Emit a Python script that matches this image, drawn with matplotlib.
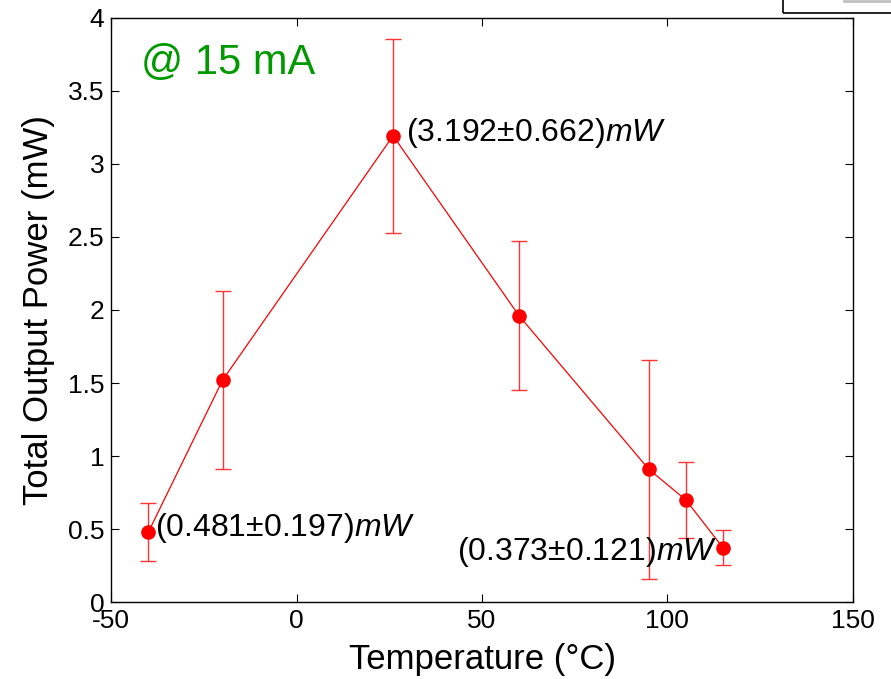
import matplotlib
matplotlib.use("Agg")
import matplotlib.pyplot as plt
from matplotlib.patches import Rectangle
from matplotlib.lines import Line2D

# measured output power vs temperature @ 15 mA
temps = [-40, -20, 26, 60, 95, 105, 115]
power = [0.481, 1.52, 3.192, 1.96, 0.91, 0.70, 0.373]
err = [0.197, 0.61, 0.662, 0.51, 0.75, 0.26, 0.121]

labels = ["(0.481±0.197)$\\mathit{mW}$",
          "(3.192±0.662)$\\mathit{mW}$",
          "(0.373±0.121)$\\mathit{mW}$"]
label_idx = [0, 2, 6]

xticks = [-50, 0, 50, 100, 150]
yticks = [0, 0.5, 1, 1.5, 2, 2.5, 3, 3.5, 4]
yticklabels = ["0", "0.5", "1", "1.5", "2", "2.5", "3", "3.5", "4"]

plt.rcParams['font.family'] = ['Liberation Sans', 'DejaVu Sans']
plt.rcParams['mathtext.fontset'] = 'custom'
plt.rcParams['mathtext.rm'] = 'Liberation Sans'
plt.rcParams['mathtext.it'] = 'Liberation Sans:italic'
plt.rcParams['axes.unicode_minus'] = False

fig = plt.figure(figsize=(8.91, 6.79), dpi=100)
ax = fig.add_axes([0.125, 0.113, 0.832, 0.861])

ax.errorbar(temps, power, yerr=err, color='red', ecolor=(1, 0.2, 0.2),
            elinewidth=1.0, capsize=6, capthick=1.0, lw=0.9,
            marker='o', markersize=9.5, markerfacecolor='red',
            markeredgecolor='red', zorder=3)

# annotations
offsets = [(5, 3), (9, 2), (-4, -3)]
aligns = ['left', 'left', 'right']
for k, i in enumerate(label_idx):
    ax.annotate(labels[k], (temps[i], power[i]), xytext=offsets[k],
                textcoords='offset points', ha=aligns[k], va='center',
                fontsize=23)

ax.text(-42, 3.69, "@ 15 mA", color=(0, 0.6, 0), fontsize=30, va='center')

ax.set_xlim(-50, 150)
ax.set_ylim(0, 4)
ax.set_xticks(xticks)
ax.set_yticks(yticks)
ax.set_yticklabels(yticklabels)
ax.tick_params(direction='in', top=True, right=True, labelsize=19,
               length=6, width=0.8, pad=5)
for s in ax.spines.values():
    s.set_linewidth(1.0)

ax.set_xlabel("Temperature (°C)", fontsize=25, labelpad=7)
ax.set_ylabel("Total Output Power (mW)", fontsize=25, labelpad=9)

# cropped box at top-right edge of the figure
fig.patches.append(Rectangle((783 / 891, 1 - 13 / 679), 0.2, 0.1,
                             transform=fig.transFigure, fill=False,
                             edgecolor='black', lw=1.2, clip_on=False))
fig.lines.append(Line2D([844 / 891, 1.0], [1 - 1 / 679, 1 - 1 / 679],
                        transform=fig.transFigure, color='#c0c0c0', lw=2))

fig.savefig("out.png", dpi=100)
